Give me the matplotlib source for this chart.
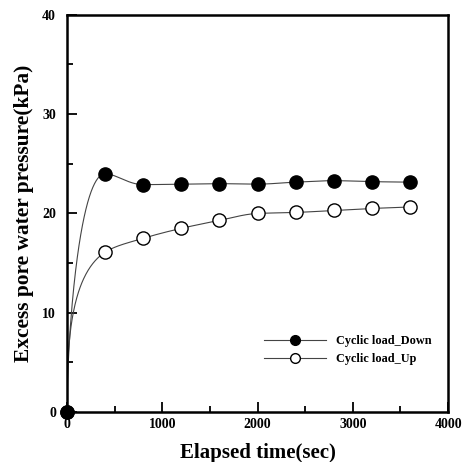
import numpy as np
import matplotlib.pyplot as plt

# elapsed time (sec) and excess pore water pressure (kPa)
time = [0, 400, 800, 1200, 1600, 2000, 2400, 2800, 3200, 3600]
down = [0, 24.0, 22.9, 22.95, 23.0, 22.95, 23.15, 23.3, 23.2, 23.15]
up = [0, 16.1, 17.5, 18.5, 19.3, 20.0, 20.1, 20.3, 20.5, 20.65]


def smooth(x, y, p, n=600):
    # monotone cubic hermite in a warped time axis (u = t^p)
    u = np.asarray(x, float) ** p
    y = np.asarray(y, float)
    h = np.diff(u)
    d = np.diff(y) / h
    m = np.zeros_like(y)
    for i in range(1, len(y) - 1):
        if d[i - 1] * d[i] > 0:
            w1 = 2 * h[i] + h[i - 1]
            w2 = h[i] + 2 * h[i - 1]
            m[i] = (w1 + w2) / (w1 / d[i - 1] + w2 / d[i])
    m[0] = d[0]
    m[-1] = d[-1]
    tt = np.linspace(x[0], x[-1], n)
    uu = tt ** p
    k = np.clip(np.searchsorted(u, uu) - 1, 0, len(u) - 2)
    s = (uu - u[k]) / h[k]
    h00 = 2 * s**3 - 3 * s**2 + 1
    h10 = s**3 - 2 * s**2 + s
    h01 = -2 * s**3 + 3 * s**2
    h11 = s**3 - s**2
    yy = h00 * y[k] + h10 * h[k] * m[k] + h01 * y[k + 1] + h11 * h[k] * m[k + 1]
    return tt, yy


plt.rcParams['font.family'] = 'Liberation Serif'
plt.rcParams['font.weight'] = 'bold'

fig = plt.figure(figsize=(4.67, 4.62), dpi=100)
ax = fig.add_axes([0.1435, 0.108, 0.816, 0.860])

series = [(down, 'black', 'Cyclic load_Down', 0.5, 6),
          (up, 'white', 'Cyclic load_Up', 1 / 3, 5)]
for yv, face, lab, p, z in series:
    tx, ty = smooth(time, yv, p)
    ax.plot(tx, ty, color='#444444', linewidth=0.8)
    ax.plot(time, yv, linestyle='none', marker='o', markersize=9.5,
            markerfacecolor=face, markeredgecolor='black', markeredgewidth=1.0,
            clip_on=False, zorder=z)
    ax.plot([], [], color='#444444', linewidth=0.8, marker='o', markersize=7,
            markerfacecolor=face, markeredgecolor='black', label=lab)

ax.set_xlim(0, 4000)
ax.set_ylim(0, 40)
ax.set_xticks([0, 1000, 2000, 3000, 4000])
ax.set_xticks([500, 1500, 2500, 3500], minor=True)
ax.set_yticks([0, 10, 20, 30, 40])
ax.set_yticks([5, 15, 25, 35], minor=True)
ax.tick_params(which='both', direction='in', top=False, right=False,
               labelsize=10, width=1.3)
ax.tick_params(axis='x', which='both', pad=4)
ax.tick_params(axis='y', which='both', pad=8)
ax.tick_params(which='major', length=7)
ax.tick_params(which='minor', length=4)
for sp in ax.spines.values():
    sp.set_linewidth(1.8)

ax.set_xlabel('Elapsed time(sec)', fontsize=15, fontweight='bold', labelpad=9)
ax.set_ylabel('Excess pore water pressure(kPa)', fontsize=15.4, fontweight='bold', labelpad=6)

ax.legend(loc='lower right', bbox_to_anchor=(0.985, 0.09), frameon=False,
          fontsize=8.8, handlelength=5.1, labelspacing=0.5, handletextpad=0.8)

fig.savefig('out.png', dpi=100)
